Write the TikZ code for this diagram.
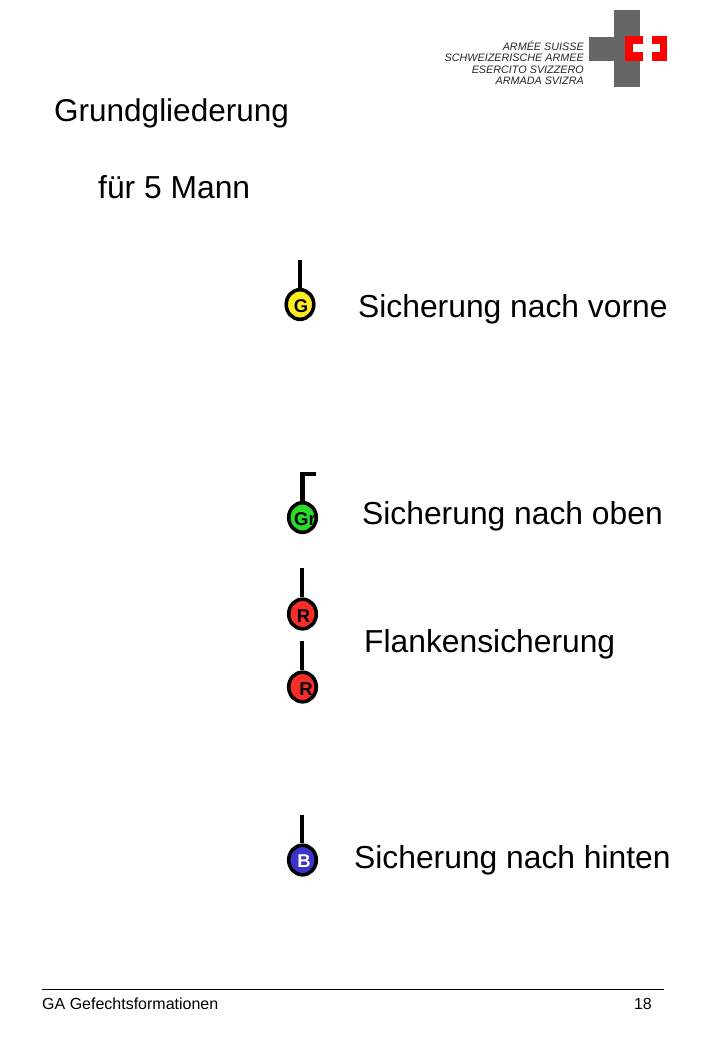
\documentclass[tikz,border=0pt]{standalone}
\usepackage{fontspec}
\setmainfont{Liberation Sans}
\usetikzlibrary{shapes.geometric}
\definecolor{crossgrey}{RGB}{102,102,102}
\definecolor{flagred}{RGB}{255,0,0}
\definecolor{gyellow}{RGB}{255,238,30}
\definecolor{ggreen}{RGB}{40,220,40}
\definecolor{rred}{RGB}{250,45,40}
\definecolor{bblue}{RGB}{60,50,205}
\tikzset{
  soldier/.style={ellipse,draw=black,line width=3.6pt,minimum width=27.6pt,minimum height=29.6pt,inner sep=0pt},
  mark text/.style={inner sep=0pt,font=\fontsize{18.5}{19}\selectfont\bfseries},
  stem/.style={draw=black,line width=4.5pt,line cap=butt},
  big/.style={anchor=base west,inner sep=0pt,font=\fontsize{31.8}{32}\selectfont},
  logotext/.style={anchor=base east,inner sep=0pt,font=\fontsize{10.8}{11}\selectfont\itshape,text=black!85}
}
\begin{document}
\begin{tikzpicture}[x=1pt,y=-1pt]
\useasboundingbox (0,0) rectangle (720,1040);
% logo
\fill[crossgrey] (614,10) rectangle (640,87);
\fill[crossgrey] (589,37) rectangle (640,61);
\fill[flagred] (625,36) rectangle (667,61.5);
\fill[white] (643,36) rectangle (652,61.5);
\fill[white] (633,44) rectangle (660,52);
\node[logotext] (l1) at (584,51) {ARMÉE SUISSE};
\node[logotext] (l2) at (584,62) {SCHWEIZERISCHE ARMEE};
\node[logotext] (l3) at (584,74) {ESERCITO SVIZZERO};
\node[logotext] (l4) at (584,85) {ARMADA SVIZRA};
% titles
\node[big,font=\fontsize{31.5}{32}\selectfont] (t1) at (54,122) {Grundgliederung};
\node[big] (t2) at (98,198.5) {für 5 Mann};
% soldiers
\node[soldier,fill=gyellow] (G) at (300,304.5) {};
\node[mark text] (Gt) at (301,306) {G};
\coordinate (Gtop) at (300,260);
\draw[stem] (Gtop) -- (G.north);
\node[soldier,fill=ggreen] (Gr) at (302.5,517.5) {};
\node[mark text] (Grt) at (305,519) {Gr};
\coordinate (Grtop) at (302.5,474);
\coordinate (Grend) at (316,474);
\draw[stem] (Gr.north) -- (Grtop |- Grend) -- (Grend);
\node[soldier,fill=rred] (R1) at (302.5,614) {};
\node[mark text] (R1t) at (303.5,616) {R};
\coordinate (R1top) at (302,568);
\draw[stem] (R1top) -- (R1.north -| R1top);
\node[soldier,fill=rred] (R2) at (302.5,687) {};
\node[mark text] (R2t) at (306,689) {R};
\coordinate (R2top) at (302,641);
\draw[stem] (R2top) -- (R2.north -| R2top);
\node[soldier,fill=bblue] (B) at (302.5,860) {};
\node[mark text,text=white] (Bt) at (304,861) {B};
\coordinate (Btop) at (302,815);
\draw[stem] (Btop) -- (B.north -| Btop);
% labels
\node[big] (s1) at (358,317) {Sicherung nach vorne};
\node[big] (s2) at (362,524) {Sicherung nach oben};
\node[big] (s3) at (364,652) {Flankensicherung};
\node[big] (s4) at (354,868) {Sicherung nach hinten};
% footer
\coordinate (fa) at (42,989);
\coordinate (fb) at (664,989);
\draw[black,line width=0.8pt] (fa) -- (fb);
\node[anchor=base west,inner sep=0pt,font=\fontsize{16}{16}\selectfont] (f1) at (42,1009) {GA Gefechtsformationen};
\node[anchor=base east,inner sep=0pt,font=\fontsize{16}{16}\selectfont] (f2) at (652,1009) {18};
\end{tikzpicture}
\end{document}
